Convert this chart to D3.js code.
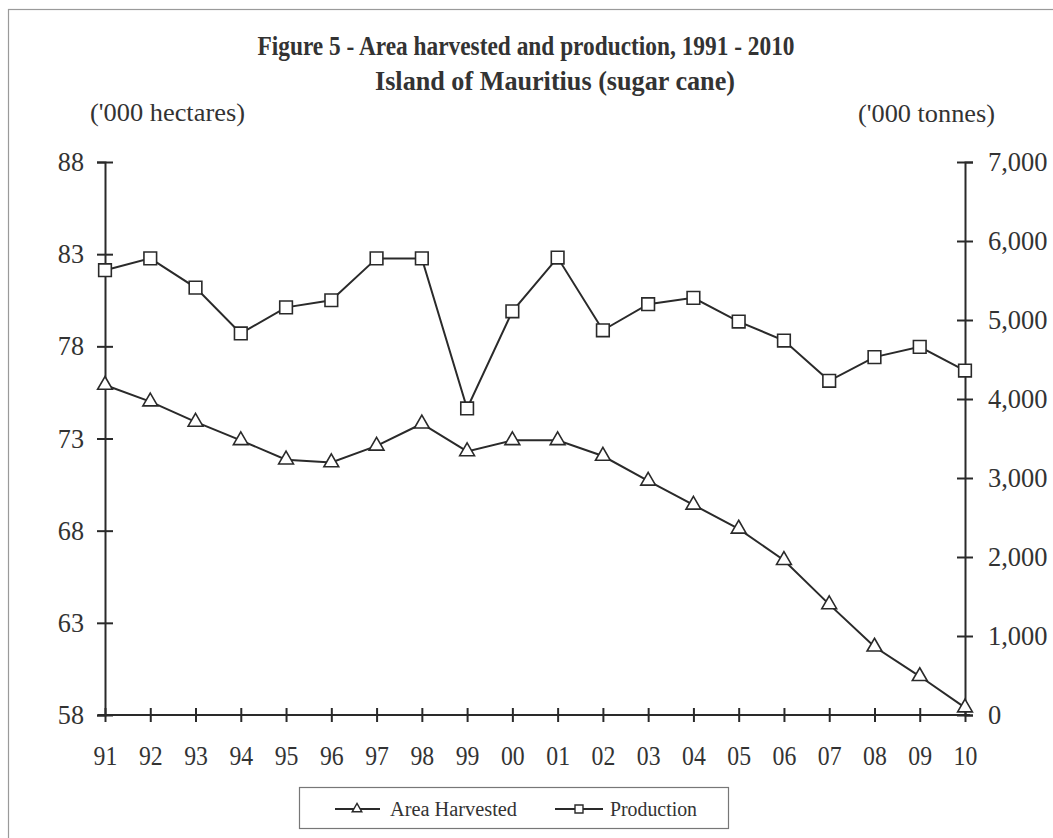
<!DOCTYPE html>
<html><head><meta charset="utf-8">
<script src="https://cdn.jsdelivr.net/npm/d3@7"></script>
<style>
html,body{margin:0;padding:0;background:#fff;}
svg{display:block;}
text{font-family:"Liberation Serif","Times New Roman",serif;fill:#333;}
</style></head>
<body><svg id="c" width="1053" height="838"></svg>
<script>
const years = ["91","92","93","94","95","96","97","98","99","00","01","02","03","04","05","06","07","08","09","10"];
const areaHarvested = [75.9,75.0,73.9,72.9,71.85,71.7,72.6,73.8,72.3,72.9,72.9,72.05,70.7,69.4,68.1,66.4,64.0,61.7,60.1,58.4];
const production = [5630,5780,5410,4830,5160,5250,5780,5780,3880,5110,5790,4870,5200,5280,4980,4740,4230,4530,4660,4360];
const leftTicks = [58,63,68,73,78,83,88];
const rightTicks = [0,1000,2000,3000,4000,5000,6000,7000];
const titleLines = ["Figure 5 - Area harvested and production, 1991 - 2010","Island of Mauritius (sugar cane)"];
const leftUnit = "('000 hectares)";
const rightUnit = "('000 tonnes)";
const seriesNames = ["Area Harvested","Production"];

const svg = d3.select("#c");
const ink = "#2a2a2a";
const L = 105, R = 965, T = 162, B = 715;

// frame
svg.append("rect").attr("x",8.5).attr("y",9.5).attr("width",1060).attr("height",840)
  .attr("fill","none").attr("stroke","#9a9a9a").attr("stroke-width",1.2);

const x = d3.scalePoint().domain(years).range([L,R]);
const yL = d3.scaleLinear().domain([58,88]).range([B,T]);
const yR = d3.scaleLinear().domain([0,7000]).range([B,T]);

// titles
svg.append("text").attr("x",526).attr("y",55).attr("text-anchor","middle")
  .attr("font-size",28).attr("font-weight","bold").attr("fill","#3a3a3a")
  .attr("textLength",537).attr("lengthAdjust","spacingAndGlyphs").text(titleLines[0]);
svg.append("text").attr("x",555).attr("y",90).attr("text-anchor","middle")
  .attr("font-size",28).attr("font-weight","bold").attr("fill","#3a3a3a")
  .attr("textLength",360).attr("lengthAdjust","spacingAndGlyphs").text(titleLines[1]);
svg.append("text").attr("x",90).attr("y",121).attr("font-size",25)
  .attr("textLength",155).attr("lengthAdjust","spacingAndGlyphs").text(leftUnit);
svg.append("text").attr("x",858).attr("y",122).attr("font-size",25)
  .attr("textLength",137).attr("lengthAdjust","spacingAndGlyphs").text(rightUnit);

function condense(sel, f){
  sel.each(function(){
    const w = this.getComputedTextLength();
    d3.select(this).attr("textLength", w*f).attr("lengthAdjust","spacingAndGlyphs");
  });
}

function styleAxis(g, horiz, f){
  g.select(".domain").attr("stroke",ink).attr("stroke-width",2);
  g.selectAll(".tick line").attr("stroke",ink).attr("stroke-width",2);
  if(horiz) g.selectAll(".tick line").attr("y1",-7).attr("y2",7);
  else g.selectAll(".tick line").attr("x1",-8).attr("x2",8);
  g.selectAll(".tick text").attr("fill","#333");
  condense(g.selectAll(".tick text"), f);
}

const gL = svg.append("g").attr("transform",`translate(${L},0)`)
  .call(d3.axisLeft(yL).tickValues(leftTicks).tickSizeOuter(0).tickSize(8).tickPadding(13).tickFormat(d3.format("d")));
gL.attr("font-size",27); styleAxis(gL,false,0.97);

const gR = svg.append("g").attr("transform",`translate(${R},0)`)
  .call(d3.axisRight(yR).tickValues(rightTicks).tickSizeOuter(0).tickSize(8).tickPadding(15).tickFormat(d3.format(",")));
gR.attr("font-size",27); styleAxis(gR,false,0.98);

const gB = svg.append("g").attr("transform",`translate(0,${B})`)
  .call(d3.axisBottom(x).tickSizeOuter(0).tickSize(7).tickPadding(24));
gB.attr("font-size",27); styleAxis(gB,true,0.88);
gB.select(".domain").attr("d",`M${L-7},0H${R+5}`);

// lines
const lineA = d3.line().x((d,i)=>x(years[i])).y(d=>yL(d));
const lineP = d3.line().x((d,i)=>x(years[i])).y(d=>yR(d));
svg.append("path").datum(areaHarvested).attr("d",lineA).attr("fill","none").attr("stroke",ink).attr("stroke-width",2);
svg.append("path").datum(production).attr("d",lineP).attr("fill","none").attr("stroke",ink).attr("stroke-width",2);

const tri = d3.symbol().type(d3.symbolTriangle).size(95);
const sq = d3.symbol().type(d3.symbolSquare).size(160);
svg.append("g").selectAll("path").data(areaHarvested).join("path")
  .attr("d",tri).attr("transform",(d,i)=>`translate(${x(years[i])},${yL(d)})`)
  .attr("fill","#fff").attr("stroke",ink).attr("stroke-width",1.6);
svg.append("g").selectAll("path").data(production).join("path")
  .attr("d",sq).attr("transform",(d,i)=>`translate(${x(years[i])},${yR(d)})`)
  .attr("fill","#fff").attr("stroke",ink).attr("stroke-width",1.6);

// legend
const lg = svg.append("g");
lg.append("rect").attr("x",299.5).attr("y",787.5).attr("width",429).attr("height",41)
  .attr("fill","#fff").attr("stroke","#777").attr("stroke-width",1.2);
lg.append("line").attr("x1",335).attr("x2",380).attr("y1",809).attr("y2",809).attr("stroke",ink).attr("stroke-width",2);
lg.append("path").attr("d",d3.symbol().type(d3.symbolTriangle).size(40)).attr("transform","translate(357,809)")
  .attr("fill","#fff").attr("stroke",ink).attr("stroke-width",1.4);
lg.append("text").attr("x",390).attr("y",816).attr("font-size",20)
  .attr("textLength",127).attr("lengthAdjust","spacingAndGlyphs").text(seriesNames[0]);
lg.append("line").attr("x1",555).attr("x2",603).attr("y1",809).attr("y2",809).attr("stroke",ink).attr("stroke-width",2);
lg.append("path").attr("d",d3.symbol().type(d3.symbolSquare).size(64)).attr("transform","translate(579,809)")
  .attr("fill","#fff").attr("stroke",ink).attr("stroke-width",1.4);
lg.append("text").attr("x",610).attr("y",816).attr("font-size",20)
  .attr("textLength",87).attr("lengthAdjust","spacingAndGlyphs").text(seriesNames[1]);
</script></body></html>
